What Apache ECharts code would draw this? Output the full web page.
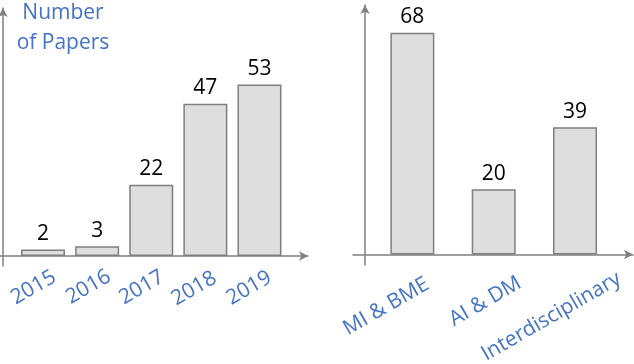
<!DOCTYPE html>
<html>
<head>
<meta charset="utf-8">
<script src="https://cdn.jsdelivr.net/npm/echarts@6/dist/echarts.min.js"></script>
<style>html,body{margin:0;padding:0;background:#fff}#c{width:634px;height:364px}</style>
</head>
<body>
<div id="c"></div>
<script>
const years = ['2015', '2016', '2017', '2018', '2019'];
const papersPerYear = [2, 3, 22, 47, 53];
const fields = ['MI & BME', 'AI & DM', 'Interdisciplinary'];
const papersPerField = [68, 20, 39];
const yTitle = 'Number\nof Papers';

// label placement tweaks (style only): [shift along text, shift across text]
const yearLabelShift = [[13, 0], [14, 0], [13, 0], [11, 0], [12, 0]];
const fieldLabelShift = [[16, 2.5], [26, 7], [44, 12.5]];

const AX = '#7F7F7F';
const BLUE = '#4472C4';
const FONT = 'Open Sans';

const lineAxis = (extra) => Object.assign({
  type: 'value', min: 0, max: 1,
  axisLine: { show: true, symbol: ['none', 'arrow'], symbolSize: [7, 9], lineStyle: { color: AX, width: 1.5 } },
  axisTick: { show: false }, axisLabel: { show: false }, splitLine: { show: false }
}, extra);
const hiddenAxis = (extra) => Object.assign({ type: 'value', show: false, min: 0, max: 1 }, extra);

const barSeries = (xi, yi, data) => ({
  type: 'bar', xAxisIndex: xi, yAxisIndex: yi, data: data, barWidth: 44,
  itemStyle: { color: '#DEDEDE', borderColor: AX, borderWidth: 1.5 },
  label: { show: true, position: 'top', distance: 5, color: '#000', fontFamily: FONT, fontSize: 21 }
});

const catItems = (names, shifts) => names.map((n, i) => {
  const ts = { padding: [0, -shifts[i][0], 0, 0] };
  if (shifts[i][1] > 0) { ts.verticalAlign = 'top'; ts.lineHeight = 2 * shifts[i][1]; }
  return { value: n, textStyle: ts };
});

const catAxis = (gi, data, margin) => ({
  type: 'category', gridIndex: gi, data: data,
  axisLine: { show: false }, axisTick: { show: false },
  axisLabel: { rotate: 30, margin: margin, color: BLUE, fontFamily: FONT, fontSize: 21, interval: 0, hideOverlap: false }
});

const G = (o) => Object.assign({ containLabel: false, outerBoundsMode: 'none' }, o);

const chart = echarts.init(document.getElementById('c'), null, { renderer: 'canvas' });
chart.setOption({
  animation: false,
  backgroundColor: '#fff',
  grid: [
    G({ left: 16, right: 347.5, top: 10, bottom: 108 }),
    G({ left: 371.7, right: 18.3, top: 10, bottom: 109.5 }),
    G({ left: 0, width: 308, top: 10, bottom: 108 }),
    G({ left: 3, width: 100, top: 8, bottom: 98 }),
    G({ left: 353, width: 280, top: 10, bottom: 109.5 }),
    G({ left: 365, width: 100, top: 5, bottom: 99 })
  ],
  xAxis: [
    catAxis(0, catItems(years, yearLabelShift), 26),
    catAxis(1, catItems(fields, fieldLabelShift), 34),
    lineAxis({ gridIndex: 2 }),
    hiddenAxis({ gridIndex: 3 }),
    lineAxis({ gridIndex: 4 }),
    hiddenAxis({ gridIndex: 5 })
  ],
  yAxis: [
    { type: 'value', gridIndex: 0, min: 0, max: 76, show: false },
    { type: 'value', gridIndex: 1, min: 0, max: 75, show: false },
    hiddenAxis({ gridIndex: 2 }),
    lineAxis({ gridIndex: 3 }),
    hiddenAxis({ gridIndex: 4 }),
    lineAxis({ gridIndex: 5 })
  ],
  title: {
    text: yTitle, left: 63, top: -2, textAlign: 'center', padding: 0,
    textStyle: { color: BLUE, fontFamily: FONT, fontSize: 21, fontWeight: 'normal', lineHeight: 30 }
  },
  series: [
    barSeries(0, 0, papersPerYear),
    barSeries(1, 1, papersPerField)
  ]
});
</script>
</body>
</html>
